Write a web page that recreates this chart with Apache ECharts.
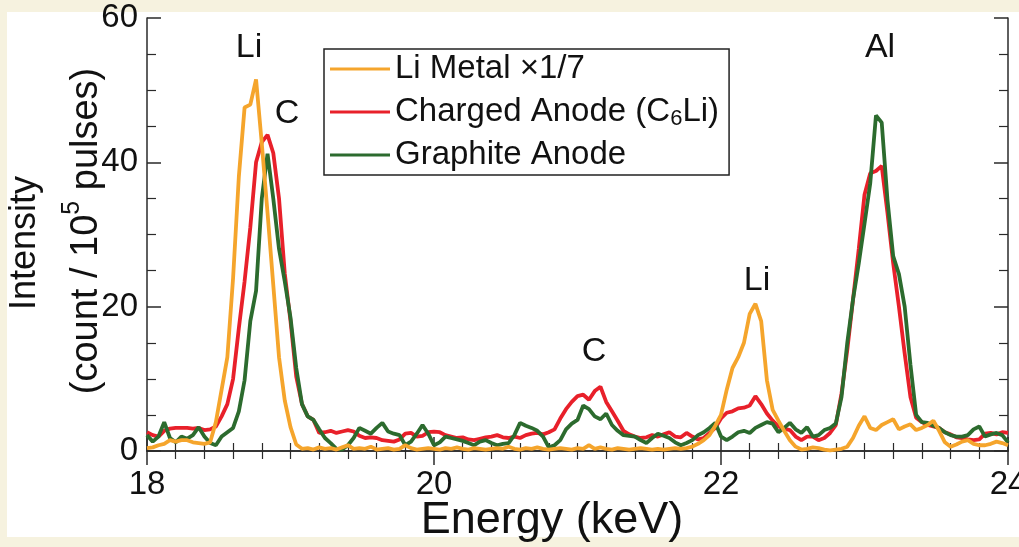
<!DOCTYPE html>
<html>
<head>
<meta charset="utf-8">
<script src="https://cdn.jsdelivr.net/npm/echarts@6/dist/echarts.min.js"></script>
<style>
html,body{margin:0;padding:0;background:#f6f2df;}
#chart{width:1019px;height:547px;}
</style>
</head>
<body>
<div id="chart"></div>
<script>
// Energy grid (keV)
const energy = [
18.00,18.04,18.08,18.12,18.16,18.20,18.24,18.28,18.32,18.36,18.40,18.44,18.48,18.52,18.56,18.60,18.64,18.68,18.72,18.76,
18.80,18.84,18.88,18.92,18.96,19.00,19.04,19.08,19.12,19.16,19.20,19.24,19.28,19.32,19.36,19.40,19.44,19.48,19.52,19.56,
19.60,19.64,19.68,19.72,19.76,19.80,19.84,19.88,19.92,19.96,20.00,20.04,20.08,20.12,20.16,20.20,20.24,20.28,20.32,20.36,
20.40,20.44,20.48,20.52,20.56,20.60,20.64,20.68,20.72,20.76,20.80,20.84,20.88,20.92,20.96,21.00,21.04,21.08,21.12,21.16,
21.20,21.24,21.28,21.32,21.36,21.40,21.44,21.48,21.52,21.56,21.60,21.64,21.68,21.72,21.76,21.80,21.84,21.88,21.92,21.96,
22.00,22.04,22.08,22.12,22.16,22.20,22.24,22.28,22.32,22.36,22.40,22.44,22.48,22.52,22.56,22.60,22.64,22.68,22.72,22.76,
22.80,22.84,22.88,22.92,22.96,23.00,23.04,23.08,23.12,23.16,23.20,23.24,23.28,23.32,23.36,23.40,23.44,23.48,23.52,23.56,
23.60,23.64,23.68,23.72,23.76,23.80,23.84,23.88,23.92,23.96,24.00];

// Li Metal x1/7
const liMetal = [
0.4,0.5,0.8,1.0,1.5,1.3,1.5,1.5,1.2,1.1,1.0,1.2,4.0,8.5,13,24,38,47.6,48,51.5,
42.6,33,23,13,7,3.3,0.9,0.3,0.4,0.2,0.5,0.3,0.4,0.2,0.5,0.8,0.3,0.4,0.3,0.6,
0.2,0.3,0.4,0.2,0.3,0.8,0.4,0.2,0.3,0.4,0.3,0.2,0.4,0.3,0.5,0.3,0.2,0.4,0.3,0.2,
0.3,0.4,0.3,0.6,0.3,0.2,0.4,0.3,0.5,0.3,0.2,0.3,0.4,0.3,0.2,0.4,0.3,0.8,0.3,0.5,
0.3,0.2,0.4,0.3,0.2,0.3,0.4,0.3,0.2,0.3,0.2,0.3,0.4,0.3,0.4,0.6,1.0,1.5,2.2,3.5,
5,8.5,11.5,13,15,19,20.4,18,9.8,5.7,4.2,2.8,1.5,0.6,0.2,0.3,0.5,0.4,0.2,0.1,
0.2,0.3,0.6,1.8,3.5,4.8,3.2,2.9,3.6,4.0,4.4,3.0,3.4,3.7,2.9,3.2,3.6,4.2,2.8,1.2,
0.6,0.9,1.3,1.5,1.0,0.8,0.8,1.0,1.3,1.1,0.8];

// Charged Anode (C6Li)
const charged = [
2.6,2.2,2.0,2.8,3.1,3.2,3.2,3.2,3.1,3.2,2.9,3.0,3.4,4.8,6.5,10,17,23.5,31,40,
42.8,43.8,41.3,35,24.6,18,10.3,6.5,4.8,4.3,2.5,2.6,2.8,2.5,2.7,2.9,2.7,2.1,1.8,1.9,
1.8,1.5,1.4,1.3,1.6,2.4,2.5,2.0,2.1,2.6,2.7,2.6,2.2,2.0,1.8,1.9,1.6,1.5,1.7,1.9,
2.0,2.2,1.9,1.8,2.0,1.8,2.2,2.4,2.5,2.3,2.6,3.0,4.5,5.8,6.8,7.6,7.8,7.1,8.3,8.9,
6.8,5.5,4.2,2.8,2.3,2.0,1.8,1.9,2.2,2.0,2.3,2.6,2.0,1.9,2.5,2.0,1.6,1.8,2.5,3.2,
4.5,5.3,5.5,5.9,6.0,6.3,7.6,6.5,5.2,4.2,3.4,3.1,2.9,2.0,1.5,2.0,2.0,1.5,1.8,2.5,
3.6,8,14,21,28,35.5,38.5,38.8,39.5,33,26,20,13.5,7.5,4.6,4.0,3.6,3.4,3.2,2.6,
2.3,1.9,1.8,1.6,1.5,1.6,2.4,2.5,2.3,2.6,2.5];

// Graphite Anode
const graphite = [
2.2,1.3,2.0,4.0,1.8,1.2,2.0,1.7,2.2,3.3,2.0,1.1,0.8,2.0,2.6,3.2,5.5,9.8,18,22.2,
35,41.2,35,28,23.5,18.5,11.5,6.5,4.8,4.3,3.0,1.8,1.1,0.3,0.2,0.8,1.8,3.2,2.8,2.4,
3.2,3.9,2.7,2.4,2.2,0.8,1.3,2.4,3.6,2.4,0.8,1.2,2.0,1.8,1.6,1.4,1.1,0.8,1.3,1.5,
1.1,0.8,1.0,1.1,2.2,3.9,3.5,3.2,2.8,2.0,0.5,0.8,1.5,3.0,3.8,4.3,6.3,5.8,4.8,4.4,
5.2,3.6,2.8,2.2,2.1,2.0,1.5,1.1,1.8,2.4,2.1,1.8,1.2,0.8,1.1,1.5,2.2,2.6,3.2,3.9,
2.0,1.5,2.0,2.6,2.8,2.5,3.2,3.6,4.0,3.8,2.6,3.2,3.9,3.0,2.5,3.3,2.0,2.2,2.9,3.2,
3.8,7.5,15,21,26,31.5,37.1,46.5,45.5,34.8,27,24.5,20,12,5,4.0,3.9,3.5,3.2,2.6,
2.2,2.0,2.0,2.2,3.0,3.4,2.0,2.3,2.5,2.2,1.2];

const xTicks = [18, 20, 22, 24];
const yTicks = [0, 20, 40, 60];
const seriesNames = ['Li Metal \u00d71/7', 'Charged Anode (C6Li)', 'Graphite Anode'];
const seriesColors = ['#f5a52c', '#e8202a', '#2c6b2e'];
const annotations = [
  {text: 'Li', x: 249, y: 48},
  {text: 'C', x: 287, y: 114},
  {text: 'C', x: 594, y: 352},
  {text: 'Li', x: 757, y: 281},
  {text: 'Al', x: 880, y: 48}
];

function pairs(arr){ return arr.map((v,i)=>[energy[i], v]); }

const chart = echarts.init(document.getElementById('chart'), null, {renderer:'canvas'});
const FONT = 'Liberation Sans, Arial, sans-serif';
const axisCol = '#2a2a2a';

const commonX = {
  type:'value', min:xTicks[0], max:xTicks[xTicks.length-1], interval:2,
  axisLine:{show:true, lineStyle:{color:axisCol, width:1.5}},
  axisTick:{show:true, inside:true, length:14, lineStyle:{color:axisCol, width:1.5}},
  minorTick:{show:true, splitNumber:10, length:8, lineStyle:{color:axisCol, width:1.2}},
  splitLine:{show:false}
};
const commonY = {
  type:'value', min:yTicks[0], max:yTicks[yTicks.length-1], interval:20,
  axisLine:{show:true, lineStyle:{color:axisCol, width:1.5}},
  axisTick:{show:true, inside:true, length:14, lineStyle:{color:axisCol, width:1.5}},
  minorTick:{show:true, splitNumber:4, length:9, lineStyle:{color:axisCol, width:1.2}},
  splitLine:{show:false}
};

const graphics = [
  {type:'rect', shape:{x:7, y:12, width:1012, height:525}, style:{fill:'#ffffff'}, z:-10, silent:true}
];
annotations.forEach(a=>{
  graphics.push({type:'text', x:a.x, y:a.y, z:10,
    style:{text:a.text, font:'34px ' + FONT, fill:'#111', align:'center', verticalAlign:'middle'}});
});
graphics.push({type:'text', x:25, y:243, rotation:Math.PI/2, z:10,
  style:{text:'Intensity', font:'36px ' + FONT, fill:'#111', align:'center', verticalAlign:'middle'}});
graphics.push({type:'text', x:83, y:231, rotation:Math.PI/2, z:10,
  style:{text:'{a|(count / 10}{s|5}{a| pulses)}', align:'center', verticalAlign:'middle',
    rich:{a:{fontSize:38, fontFamily:FONT, fill:'#111', color:'#111', lineHeight:46, verticalAlign:'bottom'},
          s:{fontSize:25, fontFamily:FONT, fill:'#111', color:'#111', lineHeight:46, verticalAlign:'top'}}}});
graphics.push({type:'text', x:552, y:521, z:10,
  style:{text:'Energy (keV)', font:'45px ' + FONT, fill:'#111', align:'center', verticalAlign:'middle'}});

chart.setOption({
  animation:false,
  backgroundColor:'#f6f2df',
  textStyle:{fontFamily:FONT},
  grid:{left:147, right:11, top:18, bottom:96, containLabel:false, outerBoundsMode:'none'},
  legend:{
    show:true, orient:'vertical', left:324, top:49,
    data:seriesNames,
    icon:'rect', itemWidth:60, itemHeight:3, itemGap:7,
    padding:[2,10,2,6],
    borderColor:'#222', borderWidth:1.5, backgroundColor:'#fff',
    selectedMode:false,
    formatter:function(name){
      if(name.indexOf('C6Li')>=0) return '{a|Charged Anode (C}{b|6}{a|Li)}';
      return '{a|' + name + '}';
    },
    textStyle:{
      color:'#111', fontSize:33, fontFamily:FONT, lineHeight:36,
      rich:{a:{fontSize:33, fontFamily:FONT, color:'#111', lineHeight:36},
            b:{fontSize:22, fontFamily:FONT, color:'#111', lineHeight:36, verticalAlign:'bottom', padding:[12,0,0,0]}}
    }
  },
  xAxis:[
    Object.assign({}, commonX, {position:'bottom',
      axisLabel:{show:true, fontSize:33, color:'#111', margin:17, fontFamily:FONT}}),
    Object.assign({}, commonX, {position:'top', axisLabel:{show:false}})
  ],
  yAxis:[
    Object.assign({}, commonY, {position:'left',
      axisLabel:{show:true, fontSize:33, color:'#111', margin:9, fontFamily:FONT}}),
    Object.assign({}, commonY, {position:'right', axisLabel:{show:false}})
  ],
  graphic:graphics,
  series:[
    {name:seriesNames[1], type:'line', data:pairs(charged), showSymbol:false, symbol:'none',
     lineStyle:{color:seriesColors[1], width:3.8}, itemStyle:{color:seriesColors[1]}, z:2},
    {name:seriesNames[2], type:'line', data:pairs(graphite), showSymbol:false, symbol:'none',
     lineStyle:{color:seriesColors[2], width:3.8}, itemStyle:{color:seriesColors[2]}, z:3},
    {name:seriesNames[0], type:'line', data:pairs(liMetal), showSymbol:false, symbol:'none',
     lineStyle:{color:seriesColors[0], width:3.8}, itemStyle:{color:seriesColors[0]}, z:4}
  ]
});
</script>
</body>
</html>
